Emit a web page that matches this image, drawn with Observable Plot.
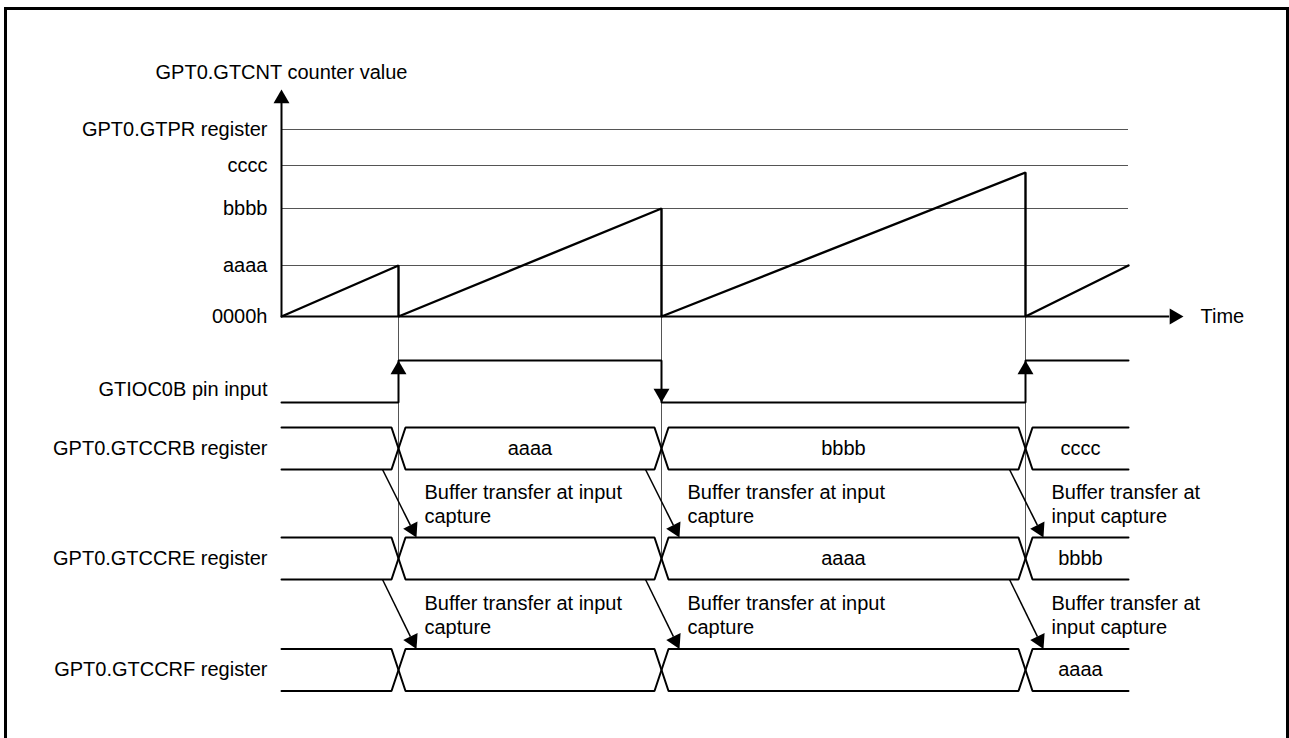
<!DOCTYPE html>
<html>
<head>
<meta charset="utf-8">
<script src="https://cdn.jsdelivr.net/npm/d3@7"></script>
<script src="https://cdn.jsdelivr.net/npm/@observablehq/plot@0.6"></script>
<style>
html, body { margin: 0; padding: 0; overflow: hidden; background: #fff; }
#wrap { position: relative; width: 1289px; height: 738px; }
#frame { position: absolute; left: 4px; top: 7px; width: 1279px; height: 800px;
  border: 3px solid #000; border-bottom: none; pointer-events: none; }
</style>
</head>
<body>
<div id="wrap"><div id="chart"></div><div id="frame"></div></div>
<script>
// ---- data (time and counter in arbitrary units) ----
const counterTitle = "GPT0.GTCNT counter value";
const counterLabels = ["GPT0.GTPR register", "cccc", "bbbb", "aaaa", "0000h"];
const counterLevels = [187, 151, 108, 51, 0];
const rampTimes  = [0, 117, 117, 380, 380, 744, 744, 847];
const rampValues = [0, 51, 0, 108, 0, 144, 0, 51];
const captureTimes = [117, 380, 744];
const endTime = 847;
const axisTop = 227;
const axisRight = 902;
const timeLabel = "Time";

const laneLabels = ["GTIOC0B pin input", "GPT0.GTCCRB register", "GPT0.GTCCRE register", "GPT0.GTCCRF register"];
const laneLabelY = [-73, -132, -242, -353.5];
const pinLow = -86, pinHigh = -44;
const pinStates = [0, 1, 0, 1];            // level per segment
const busCenters = [-132, -242, -353.5];    // GTCCRB, GTCCRE, GTCCRF
const busHalf = 21;
const busXHalf = 7;
const busValuesB = ["", "aaaa", "bbbb", "cccc"];
const busValuesE = ["", "", "aaaa", "bbbb"];
const busValuesF = ["", "", "", "aaaa"];
const transferTexts = ["Buffer transfer at input\ncapture", "Buffer transfer at input\ncapture", "Buffer transfer at\ninput capture"];
const transferStart = -16, transferEnd = 18, transferTextOffset = 26;

// ---- derived tables ----
const bounds = [0, ...captureTimes, endTime];
const ramp = rampTimes.map((t, i) => ({t, v: rampValues[i]}));

const pin = [];
pinStates.forEach((s, i) => {
  const lv = s ? pinHigh : pinLow;
  pin.push({t: bounds[i], v: lv});
  pin.push({t: bounds[i + 1], v: lv});
});

const busLines = [];
busCenters.forEach((c, r) => {
  const top = c + busHalf, bot = c - busHalf;
  for (const phase of [0, 1]) {
    const lvl = k => ((k + phase) % 2 === 0 ? top : bot);
    const id = `${r}-${phase}`;
    busLines.push({t: 0, v: lvl(0), id});
    captureTimes.forEach((T, k) => {
      busLines.push({t: T - busXHalf, v: lvl(k), id});
      busLines.push({t: T + busXHalf, v: lvl(k + 1), id});
    });
    busLines.push({t: endTime, v: lvl(captureTimes.length), id});
  }
});

const busTexts = [];
[busValuesB, busValuesE, busValuesF].forEach((vals, r) => {
  vals.forEach((s, i) => {
    if (!s) return;
    const a = i === 0 ? bounds[i] : bounds[i] + busXHalf;
    const b = i === vals.length - 1 ? bounds[i + 1] : bounds[i + 1] - busXHalf;
    busTexts.push({t: (a + b) / 2, v: busCenters[r], s});
  });
});

const headLen = 13.8, tipOff = 9.2;
const transfers = [];
const transferLabels = [];
for (let r = 0; r < busCenters.length - 1; r++) {
  const y0 = busCenters[r] - busHalf, y1 = busCenters[r + 1] + busHalf;
  captureTimes.forEach((T, k) => {
    const x0 = T + transferStart, x1 = T + transferEnd;
    const sx = x1 - x0, sy = y0 - y1; // screen direction (y down)
    const L = Math.hypot(sx, sy), ux = sx / L, uy = sy / L;
    transfers.push({x0, y0, x1: x1 - headLen * ux, y1: y1 + headLen * uy,
      tx: x1 - tipOff * ux, ty: y1 + tipOff * uy, rot: Math.atan2(sy, sx) * 180 / Math.PI + 90});
    transferLabels.push({t: T + transferTextOffset, v: (y0 + y1) / 2, s: transferTexts[k]});
  });
}

const rises = [], falls = [];
captureTimes.forEach((T, k) => {
  if (pinStates[k + 1] > pinStates[k]) rises.push({t: T, v: pinHigh});
  else falls.push({t: T, v: pinLow});
});

const font = "'Liberation Sans', Arial, Helvetica, sans-serif";
const grey = "#555";
const headR = 5.92;

const chart = Plot.plot({
  width: 1289, height: 738,
  x: {domain: [0, endTime], range: [281, 1128], axis: null},
  y: {domain: [0, 187], range: [316, 129], axis: null},
  style: {fontFamily: font, fontSize: "20px", background: "#fff", overflow: "visible"},
  marks: [
    // grid levels
    Plot.ruleY(counterLevels.filter(v => v > 0), {x1: 0, x2: endTime, stroke: grey, strokeWidth: 1}),
    // capture guide lines
    Plot.ruleX(captureTimes, {y1: 0, y2: busCenters[1], stroke: grey, strokeWidth: 1}),
    // axes
    Plot.ruleX([0], {y1: 0, y2: axisTop - headLen, stroke: "#000", strokeWidth: 2}),
    Plot.ruleY([0], {x1: 0, x2: axisRight - headLen, stroke: "#000", strokeWidth: 2}),
    Plot.dot([{t: 0, v: axisTop}], {x: "t", y: "v", symbol: "triangle", r: headR, fill: "#000", stroke: "none", dy: tipOff}),
    Plot.dot([{t: axisRight, v: 0}], {x: "t", y: "v", symbol: "triangle", r: headR, fill: "#000", stroke: "none", rotate: 90, dx: -tipOff}),
    // counter sawtooth
    Plot.line(ramp, {x: "t", y: "v", stroke: "#000", strokeWidth: 2.4, strokeLinejoin: "miter"}),
    // pin input
    Plot.line(pin, {x: "t", y: "v", stroke: "#000", strokeWidth: 2, strokeLinejoin: "miter"}),
    Plot.dot(rises, {x: "t", y: "v", symbol: "triangle", r: headR, fill: "#000", stroke: "none", dy: tipOff}),
    Plot.dot(falls, {x: "t", y: "v", symbol: "triangle", r: headR, fill: "#000", stroke: "none", rotate: 180, dy: -tipOff}),
    // buses
    Plot.line(busLines, {x: "t", y: "v", z: "id", stroke: "#000", strokeWidth: 2, strokeLinejoin: "miter"}),
    Plot.text(busTexts, {x: "t", y: "v", text: "s", fill: "#000", fontSize: 20}),
    // transfer arrows
    Plot.link(transfers, {x1: "x0", y1: "y0", x2: "x1", y2: "y1", stroke: "#000", strokeWidth: 1.5}),
    Plot.dot(transfers, {x: "tx", y: "ty", rotate: "rot", symbol: "triangle", r: headR, fill: "#000", stroke: "none"}),
    Plot.text(transferLabels, {x: "t", y: "v", text: "s", textAnchor: "start", lineHeight: 1.2, fill: "#000", fontSize: 20}),
    // labels
    Plot.text(counterLabels, {x: 0, y: (d, i) => counterLevels[i], text: d => d, textAnchor: "end", dx: -14, fill: "#000", fontSize: 20}),
    Plot.text([counterTitle], {x: 0, y: axisTop, text: d => d, dy: -17, fill: "#000", fontSize: 20}),
    Plot.text([timeLabel], {x: axisRight, y: 0, text: d => d, textAnchor: "start", dx: 17, fill: "#000", fontSize: 20}),
    Plot.text(laneLabels, {x: 0, y: (d, i) => laneLabelY[i], text: d => d, textAnchor: "end", dx: -14, fill: "#000", fontSize: 20})
  ]
});
document.getElementById("chart").appendChild(chart);
</script>
</body>
</html>
